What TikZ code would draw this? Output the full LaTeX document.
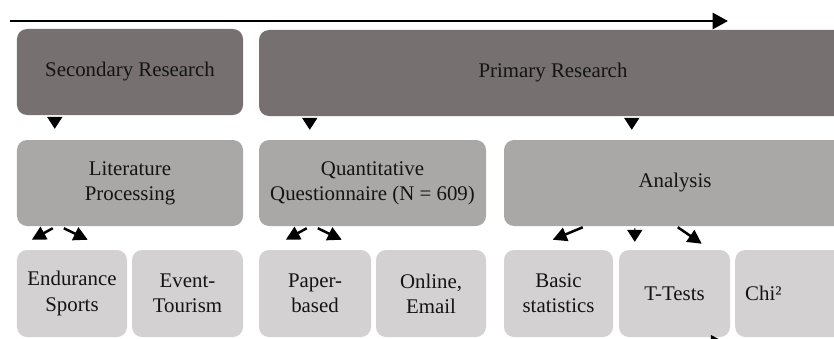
\documentclass[tikz,border=0pt]{standalone}
\usepackage{fontspec}
\setmainfont{Liberation Serif}
\usetikzlibrary{arrows.meta,calc}
\definecolor{darkgrey}{HTML}{767170}
\definecolor{midgrey}{HTML}{AAA7A7}
\definecolor{lightgrey}{HTML}{D3D1D1}
\definecolor{inkgrey}{HTML}{141414}
\tikzset{
    box/.style={rounded corners=3mm, inner sep=0pt, align=center, text=inkgrey,
        font=\fontsize{17.8}{21.5}\selectfont},
    darkbox/.style={box, fill=darkgrey, minimum height=25.8mm},
    midbox/.style={box, fill=midgrey, minimum height=25.8mm},
    lightbox/.style={box, fill=lightgrey, minimum height=26.1mm},
    timeline/.style={line width=0.8mm, -{Triangle[length=4.6mm,width=4.8mm]}},
    downtip/.style={line width=0.3mm, -{Triangle[length=3.6mm,width=4.6mm]}},
    diag/.style={line width=0.75mm, -{Triangle[length=4.2mm,width=4.2mm]}},
}
\begin{document}
\begin{tikzpicture}[x=0.3mm, y=-0.3mm]
        \useasboundingbox (0,0) rectangle (834,338);
        % timeline
        \coordinate (tstart) at (10,21);
        \coordinate (tend) at (728,21);
        \draw [timeline] (tstart) -- (tend);
        % research type
        \node [darkbox, minimum width=67.8mm] (sec) at (130,72) {Secondary Research};
        \node [darkbox, minimum width=176.4mm] (prim) at (553,73) {Primary Research};
        % methods
        \node [midbox, minimum width=67.8mm] (lit) at (130,183) {Literature\\Processing};
        \node [midbox, minimum width=68.1mm] (quant) at (372.5,183) {Quantitative\\Questionnaire (N = 609)};
        \node [midbox, minimum width=102.6mm] (ana) at (675,183) {Analysis};
        % details
        \node [lightbox, minimum width=33mm] (endu) at (72,293.5) {Endurance\\Sports};
        \node [lightbox, minimum width=33.3mm] (event) at (187.5,293.5) {Event-\\Tourism};
        \node [lightbox, minimum width=33.6mm] (paper) at (315,293.5) {Paper-\\based};
        \node [lightbox, minimum width=33mm] (online) at (431,293.5) {Online,\\Email};
        \node [lightbox, minimum width=32.7mm] (basic) at (558.5,293.5) {Basic\\statistics};
        \node [lightbox, minimum width=33.3mm] (ttest) at (674.5,293.5) {T-Tests};
        \node [lightbox, text width=28.5mm, inner xsep=3mm, align=left, anchor=west] (chi) at (735,293.5) {Chi²};
        % arrows
        \draw [downtip] ($(sec.south west)+(38,3)$) -- ($(lit.north west)+(38,-11)$);
        \draw [downtip] ($(prim.south west)+(51,2)$) -- ($(quant.north west)+(51,-10)$);
        \draw [downtip] ($(prim.south west)+(373,2)$) -- ($(ana.north west)+(128,-10)$);
        \draw [diag] ($(lit.south west)+(36,2)$) -- ($(endu.north west)+(15,-10)$);
        \draw [diag] ($(lit.south west)+(47,2)$) -- ($(endu.north west)+(71,-10)$);
        \draw [diag] ($(quant.south west)+(48,2)$) -- ($(paper.north west)+(27,-10)$);
        \draw [diag] ($(quant.south west)+(59,2)$) -- ($(paper.north west)+(83,-10)$);
        \draw [diag] ($(ana.south west)+(79,1)$) -- ($(basic.north west)+(49,-10)$);
        \draw [downtip] ($(ana.south west)+(131,2)$) -- ($(ttest.north west)+(16,-8)$);
        \draw [diag] ($(ana.south west)+(174,1)$) -- ($(ttest.north west)+(83,-6)$);
        \coordinate (cut) at ($(ttest.south west)+(106,5)$);
        \draw [diag] ($(ttest.south west)+(85,5)$) -- (cut);
    \end{tikzpicture}
\end{document}
